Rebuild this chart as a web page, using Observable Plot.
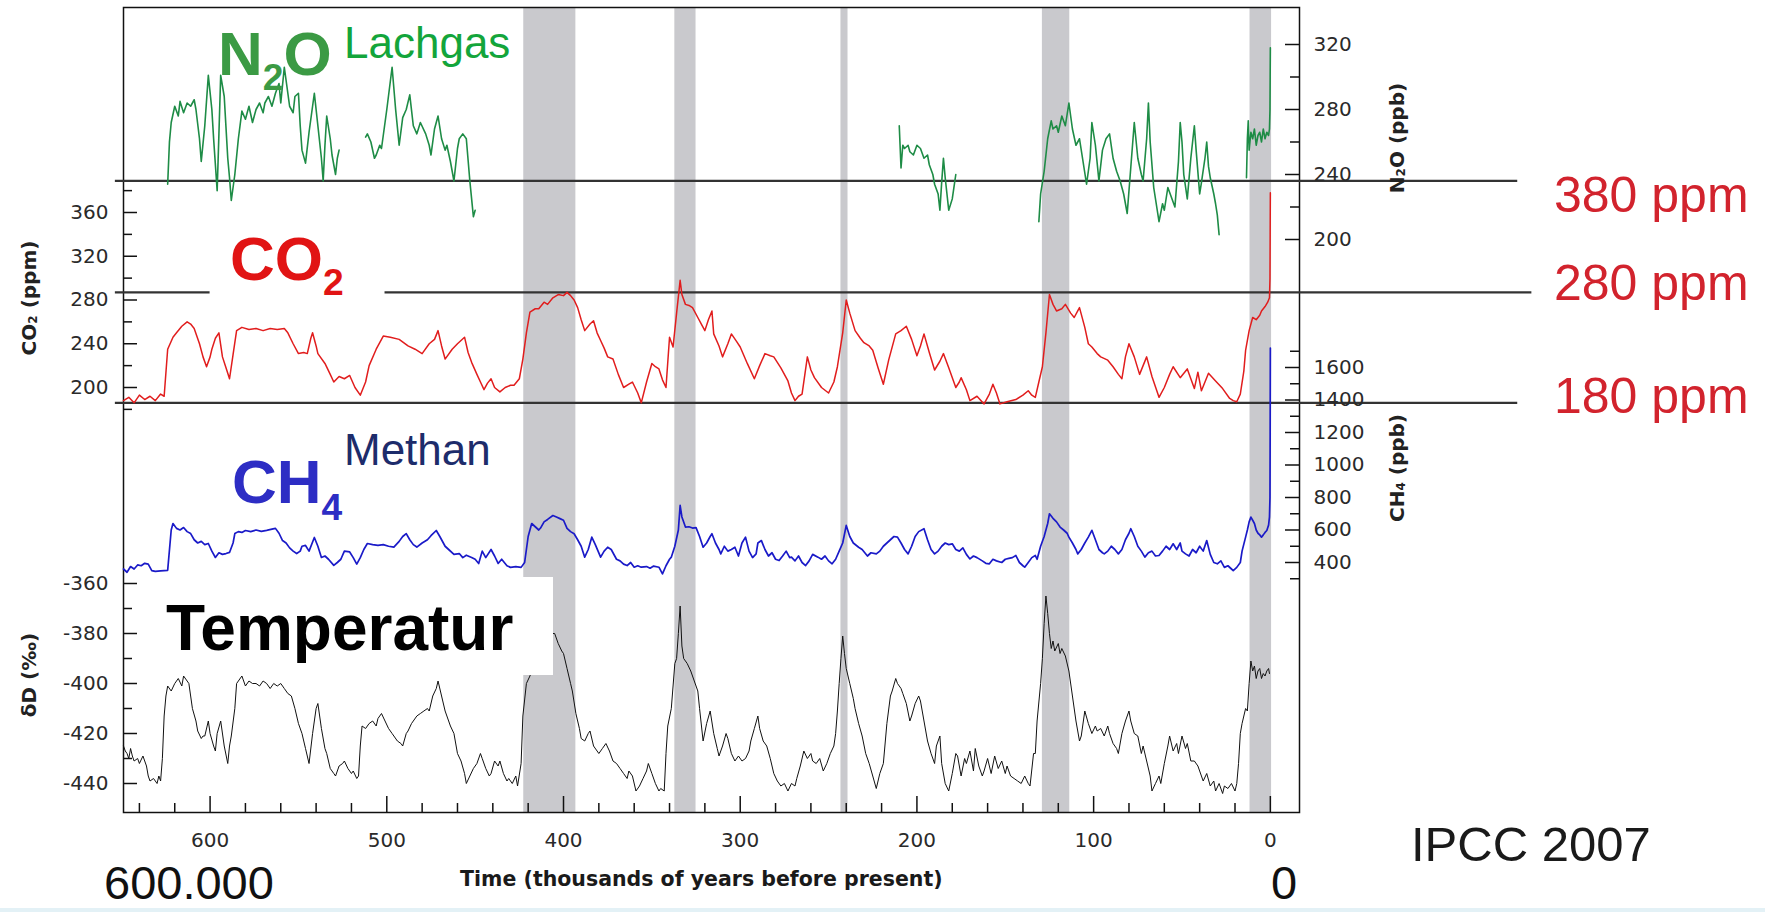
<!DOCTYPE html>
<html>
<head>
<meta charset="utf-8">
<script src="https://cdn.jsdelivr.net/npm/d3@7"></script>
<script src="https://cdn.jsdelivr.net/npm/@observablehq/plot@0.6"></script>
<style>
html,body{margin:0;padding:0;background:#fff;}
#chart{position:relative;width:1765px;height:912px;overflow:hidden;background:#fff;font-family:"Liberation Sans",Arial,sans-serif;}
#chart svg{position:absolute;left:0;top:0;}
.lbl{position:absolute;white-space:nowrap;line-height:1;font-family:"Liberation Sans",Arial,sans-serif;}
.low{line-height:0.8;}
.sub{position:relative;font-size:0.6em;}
.rot{position:absolute;white-space:nowrap;transform:translate(-50%,-50%) rotate(-90deg);font-family:"DejaVu Sans",sans-serif;font-weight:bold;font-size:20px;color:#222;line-height:1;}
.rot sub{font-size:0.6em;vertical-align:-0.15em;}
.mask{position:absolute;background:#fff;}
.strip{position:absolute;left:0;width:1765px;background:#e3f1f6;}
</style>
</head>
<body>
<div id="chart"></div>
<script>
// ---------- DATA (time in thousands of years before present) ----------
const xLabelTicks = [600, 500, 400, 300, 200, 100, 0];
const xMinorTicks = [640, 620, 580, 560, 540, 520, 480, 460, 440, 420, 380, 360, 340, 320, 280, 260, 240, 220, 180, 160, 140, 120, 80, 60, 40, 20];

// interglacial periods (grey bands)
const bandFrom = [422.5, 337, 243, 129, 11.5];
const bandTo   = [393, 325, 239, 113.5, -0.7];

// CO2 axis ticks
const co2LabelTicks = [200, 240, 280, 320, 360];
const co2MinorTicks = [180, 220, 260, 300, 340, 380];
// N2O axis ticks
const n2oLabelTicks = [200, 240, 280, 320];
const n2oMinorTicks = [220, 260, 300];
// CH4 axis ticks
const ch4LabelTicks = [400, 600, 800, 1000, 1200, 1400, 1600];
const ch4MinorTicks = [300, 500, 700, 900, 1100, 1300, 1500, 1700];
// deltaD axis ticks
const dDLabelTicks = [-360, -380, -400, -420, -440];
const dDMinorTicks = [-370, -390, -410, -430];

// reference lines (CO2 level as drawn, start and end time)
const refLevel = [389, 287, 287, 186];
const refStart = [653.6, 653.6, 501, 653.6];
const refEnd   = [-140, 600, -148, -140];

// CO2 (ppm)
const co2 = [[649,188],[646,191],[643,186],[640,193],[637,189],[634,192],[631,188],[628,194],[626,192],[624,235],[621,246],[619,250],[616,256],[613,260],[611,258],[609,254],[606,240],[604,228],[602,219],[600,228],[599,235],[597,245],[595,250],[593,228],[591,218],[589,208],[587,230],[585,252],[582,255],[578,253],[574,254],[570,252],[566,254],[562,253],[558,254],[556,250],[553,240],[550,231],[547,232],[545,231],[543,245],[542,250],[540,238],[539,231],[535,222],[532,212],[530,205],[527,210],[524,208],[521,211],[518,200],[515,193],[512,205],[510,220],[506,235],[502,247],[498,246],[493,244],[488,238],[484,235],[480,231],[476,240],[473,244],[471,252],[469,238],[467,226],[463,235],[460,240],[456,246],[454,232],[452,223],[449,212],[447,205],[445,198],[443,204],[441,208],[439,200],[436,196],[433,200],[430,202],[428,202],[425,208],[423,226],[421,250],[419,269],[416,272],[414,272],[411,278],[409,276],[406,282],[403,285],[400,284],[398,287],[396,284],[394,280],[392,273],[390,262],[388,252],[385,258],[383,261],[381,250],[379,243],[377,236],[375,228],[372,226],[369,212],[366,200],[363,203],[361,205],[358,195],[356,186],[353,205],[350,222],[348,219],[346,217],[344,207],[342,200],[340,246],[338,237],[336,268],[334,298],[333,285],[331,276],[329,275],[327,273],[324,264],[322,258],[320,252],[318,262],[316,270],[315,249],[312,238],[310,228],[307,240],[305,249],[302,242],[300,237],[296,222],[292,208],[289,220],[286,231],[283,229],[281,228],[277,218],[273,206],[271,195],[269,188],[267,192],[265,194],[262,228],[260,216],[258,209],[254,200],[250,195],[247,205],[245,219],[242,250],[240,280],[238,268],[235,252],[232,245],[230,241],[227,238],[225,234],[222,218],[219,203],[216,225],[212,249],[209,252],[206,256],[203,244],[200,229],[198,238],[196,249],[193,232],[190,216],[187,224],[185,231],[182,218],[178,200],[176,205],[175,209],[172,198],[170,188],[166,192],[162,185],[159,194],[157,203],[155,195],[153,185],[149,187],[144,189],[140,193],[137,197],[135,193],[133,191],[131,205],[129,219],[127,250],[125,285],[123,276],[121,270],[118,272],[116,276],[113,268],[111,264],[109,270],[108,273],[105,255],[103,240],[101,237],[98,231],[96,228],[92,225],[89,219],[86,212],[84,208],[82,228],[80,240],[77,228],[74,212],[72,220],[70,228],[67,210],[63,191],[60,200],[57,212],[55,219],[51,209],[47,217],[45,208],[43,199],[41,214],[39,197],[37,205],[35,213],[31,206],[27,199],[23,190],[21,188],[19,187],[17,194],[15,215],[14,234],[12,252],[10,264],[8,262],[6,266],[5,270],[3,274],[1.5,278],[0.5,282],[0.2,300],[0.1,340],[0,378]];

// N2O (ppb); null = no data
const n2o = [[624,234],[623,260],[622,272],[620,282],[618,276],[617,285],[615,278],[613,284],[611,282],[609,286],[608,280],[606,262],[605,248],[603,270],[601,301],[599,280],[598,262],[596,230],[595,265],[594,301],[592,288],[590,250],[589,238],[588,224],[586,240],[584,262],[582,279],[580,274],[578,282],[576,272],[574,280],[572,284],[570,278],[569,284],[567,288],[565,282],[563,290],[561,296],[560,284],[558,306],[556,290],[555,282],[553,278],[552,288],[550,290],[549,270],[548,255],[546,247],[544,266],[541,290],[539,270],[537,250],[536,236],[535,258],[534,276],[532,262],[531,252],[529,240],[528,250],[527,255],[520,null],[512,263],[511,265],[509,260],[507,250],[506,252],[504,258],[503,256],[500,280],[497,306],[495,280],[493,258],[491,275],[489,280],[487,289],[485,270],[483,265],[481,272],[478,265],[476,258],[475,252],[473,268],[471,276],[469,262],[467,255],[466,258],[464,248],[462,236],[460,256],[459,262],[457,265],[455,262],[453,236],[452,225],[451,214],[450,218],[330,null],[210,270],[209,244],[208,258],[207,256],[205,258],[204,254],[202,252],[200,258],[198,256],[196,250],[194,252],[193,246],[191,240],[190,234],[188,228],[187,218],[186,235],[185,250],[184,238],[182,218],[180,225],[178,240],[155,null],[131,211],[130,228],[128,242],[126,262],[124,273],[123,268],[121,270],[120,266],[118,276],[116,270],[114,284],[112,268],[110,258],[108,262],[106,248],[104,234],[102,250],[101,272],[99,258],[97,236],[95,255],[93,262],[91,265],[89,250],[87,242],[85,236],[83,228],[81,216],[79,244],[77,272],[75,250],[73,240],[72,236],[70,262],[69,284],[68,260],[66,232],[64,218],[63,211],[61,222],[60,218],[58,232],[56,226],[54,220],[52,248],[51,272],[50,260],[49,240],[47,225],[45,250],[43,270],[42,255],[40,228],[39,235],[37,250],[36,260],[35,245],[34,238],[32,228],[31,222],[30,215],[29,203],[20,null],[13.5,238],[13,262],[12.5,273],[12,255],[11,266],[10,262],[9,268],[8,258],[7,264],[6,266],[5,260],[4,268],[3,262],[2,266],[1,264],[0.5,268],[0.2,280],[0.1,300],[0,318]];

// CH4 (ppb)
const ch4 = [[649,360],[647,340],[645,375],[643,360],[641,385],[639,380],[637,395],[635,390],[633,350],[631,345],[628,348],[626,350],[624,352],[622,600],[621,640],[619,610],[617,600],[615,615],[613,590],[611,578],[609,540],[607,520],[605,530],[603,510],[601,517],[599,470],[597,431],[595,460],[593,450],[591,455],[589,462],[587,520],[586,578],[584,590],[582,585],[580,597],[577,590],[574,600],[571,592],[568,598],[565,605],[563,610],[561,580],[559,535],[557,520],[555,490],[553,470],[551,455],[549,470],[548,500],[546,505],[544,470],[541,554],[539,500],[537,431],[535,440],[533,420],[530,382],[528,400],[526,420],[524,470],[521,465],[519,430],[517,390],[515,430],[513,480],[511,517],[508,510],[505,505],[502,510],[499,500],[496,495],[493,530],[491,560],[489,578],[487,540],[485,510],[483,495],[480,520],[477,540],[475,565],[472,597],[470,560],[467,500],[465,480],[462,450],[459,455],[457,430],[455,445],[452,431],[450,420],[448,394],[446,470],[444,430],[441,480],[439,440],[437,394],[435,420],[432,380],[430,370],[427,375],[424,370],[422,400],[420,560],[418,640],[416,620],[414,600],[413,612],[411,650],[409,665],[406,689],[404,680],[402,670],[400,660],[398,610],[396,590],[394,577],[392,540],[390,500],[388,433],[386,480],[384,556],[382,510],[379,433],[377,470],[375,494],[373,480],[370,420],[368,410],[366,390],[364,381],[362,400],[360,371],[358,380],[356,371],[353,375],[351,365],[349,378],[346,371],[344,330],[342,380],[340,420],[339,433],[337,500],[335,600],[334,751],[333,680],[331,618],[329,620],[327,612],[325,615],[323,560],[321,494],[319,520],[317,560],[316,577],[314,520],[312,480],[311,453],[309,500],[307,470],[305,480],[303,494],[301,440],[299,520],[297,556],[295,470],[293,430],[291,453],[290,520],[288,535],[286,480],[284,440],[282,460],[280,420],[278,412],[276,440],[274,470],[272,430],[271,433],[269,410],[267,440],[265,400],[263,381],[261,410],[259,450],[256,433],[254,420],[252,440],[250,410],[248,392],[246,420],[244,470],[242,520],[240,628],[238,560],[236,520],[233,494],[231,480],[228,440],[226,460],[223,453],[221,470],[219,500],[217,520],[215,540],[213,560],[211,556],[209,520],[207,480],[205,453],[203,500],[201,560],[199,590],[196,608],[194,540],[192,480],[190,453],[188,470],[186,500],[184,520],[182,510],[180,515],[178,480],[176,470],[174,490],[172,450],[170,422],[168,440],[166,430],[163,410],[161,395],[159,392],[157,420],[155,410],[152,400],[150,420],[148,425],[146,430],[144,443],[142,400],[140,380],[139,371],[137,400],[135,430],[133,443],[132,420],[130,500],[128,560],[126,640],[125,700],[123,672],[121,650],[119,618],[117,600],[115,580],[114,556],[112,520],[110,480],[109,453],[107,480],[105,520],[103,556],[101,598],[99,540],[97,480],[95,460],[94,453],[92,470],[90,500],[88,480],[86,453],[84,480],[82,540],[80,580],[79,608],[77,560],[75,500],[73,470],[71,433],[69,460],[67,470],[65,440],[63,443],[61,470],[59,500],[57,480],[55,515],[53,480],[51,520],[50,470],[48,453],[46,440],[44,480],[42,460],[40,500],[38,470],[36,535],[34,450],[32,400],[30,392],[28,410],[26,370],[24,380],[22,360],[21,350],[19,370],[17,400],[16,470],[14,556],[13,600],[12,650],[11,679],[10,660],[9,640],[8,600],[7,580],[6,570],[5,556],[4,570],[3,585],[2,597],[1,630],[0.5,679],[0.2,800],[0.1,1200],[0,1720]];

// Temperature proxy deltaD (per mil)
const dD = [[649,-425],[648,-427],[647,-428],[646,-430],[645,-426],[644,-429],[643,-431],[641,-430],[640,-432],[638,-429],[636,-433],[635,-437],[634,-439],[632,-438],[630,-440],[629,-437],[628,-439],[627,-430],[626,-413],[625,-405],[624,-401],[622,-403],[620,-400],[618,-398],[616,-401],[615,-397],[613,-399],[612,-400],[610,-410],[608,-415],[607,-419],[605,-422],[604,-421],[603,-421],[601,-415],[600,-420],[598,-425],[597,-427],[596,-420],[594,-415],[592,-425],[590,-432],[589,-425],[588,-421],[586,-410],[585,-400],[584,-399],[582,-397],[580,-401],[578,-399],[576,-400],[574,-400],[572,-401],[570,-399],[568,-400],[566,-402],[564,-400],[562,-401],[560,-400],[558,-402],[556,-404],[554,-405],[552,-410],[550,-416],[548,-420],[546,-426],[544,-432],[542,-420],[540,-410],[539,-408],[537,-418],[535,-426],[534,-428],[532,-434],[530,-436],[529,-437],[527,-433],[525,-432],[524,-431],[522,-434],[520,-436],[519,-435],[517,-438],[516,-437],[515,-425],[514,-417],[512,-418],[510,-416],[508,-415],[506,-417],[505,-414],[503,-412],[501,-415],[499,-418],[497,-420],[496,-421],[494,-423],[492,-424],[491,-425],[489,-420],[488,-419],[486,-416],[485,-415],[483,-413],[481,-412],[479,-411],[477,-410],[476,-411],[474,-405],[472,-402],[471,-399],[469,-405],[467,-411],[466,-413],[464,-417],[462,-420],[460,-428],[458,-431],[456,-436],[455,-440],[453,-437],[451,-434],[449,-432],[447,-428],[446,-430],[444,-434],[442,-437],[441,-436],[439,-431],[437,-433],[436,-431],[434,-436],[432,-439],[431,-438],[429,-440],[427,-437],[426,-441],[424,-432],[423,-413],[421,-400],[419,-397],[417,-393],[415,-390],[413,-386],[411,-383],[409,-381],[407,-380],[405,-380],[403,-384],[401,-387],[400,-388],[398,-394],[396,-400],[395,-403],[393,-412],[391,-418],[390,-422],[388,-423],[386,-420],[385,-419],[383,-425],[381,-427],[380,-428],[378,-426],[376,-424],[374,-427],[372,-431],[370,-432],[368,-434],[366,-436],[364,-438],[363,-435],[361,-437],[359,-443],[357,-441],[355,-438],[353,-435],[352,-432],[350,-436],[348,-440],[346,-443],[345,-442],[343,-443],[342,-428],[341,-417],[339,-410],[337,-392],[336,-390],[335,-380],[334,-369],[333,-385],[332,-390],[330,-392],[328,-395],[326,-399],[324,-403],[323,-410],[321,-423],[319,-416],[317,-411],[315,-420],[313,-426],[312,-429],[310,-425],[308,-420],[307,-422],[305,-428],[303,-431],[301,-429],[299,-431],[297,-430],[295,-427],[294,-423],[292,-418],[290,-413],[289,-418],[287,-423],[285,-425],[283,-430],[281,-436],[279,-439],[277,-441],[275,-440],[273,-443],[271,-440],[269,-441],[268,-438],[266,-433],[264,-427],[262,-430],[260,-428],[259,-431],[257,-432],[255,-430],[253,-435],[251,-432],[249,-428],[247,-425],[246,-420],[245,-411],[244,-400],[243,-390],[242,-381],[241,-388],[240,-394],[238,-400],[236,-406],[235,-410],[233,-416],[231,-421],[229,-428],[227,-432],[225,-437],[223,-442],[221,-436],[219,-432],[217,-416],[215,-405],[214,-403],[212,-398],[211,-400],[209,-402],[208,-404],[206,-408],[204,-415],[203,-413],[201,-408],[199,-405],[198,-407],[196,-415],[194,-423],[192,-428],[190,-432],[189,-425],[187,-421],[186,-432],[184,-440],[182,-443],[180,-436],[178,-428],[177,-429],[175,-437],[173,-430],[172,-432],[170,-427],[168,-435],[167,-426],[165,-433],[163,-437],[162,-435],[160,-430],[158,-436],[156,-429],[154,-434],[152,-431],[150,-436],[149,-433],[147,-437],[145,-438],[143,-439],[141,-440],[139,-437],[137,-440],[136,-441],[134,-428],[133,-428],[132,-415],[130,-400],[129,-390],[128,-376],[127,-365],[126,-372],[125,-380],[124,-386],[123,-383],[122,-387],[120,-384],[119,-388],[118,-386],[116,-389],[114,-395],[112,-405],[110,-415],[108,-423],[107,-421],[105,-411],[103,-416],[101,-420],[99,-417],[98,-419],[96,-418],[94,-421],[92,-417],[91,-420],[89,-424],[87,-426],[86,-428],[84,-420],[82,-415],[80,-411],[79,-415],[77,-420],[75,-421],[73,-428],[72,-425],[70,-431],[68,-437],[67,-443],[65,-440],[63,-437],[62,-440],[60,-432],[58,-425],[57,-421],[55,-427],[53,-424],[52,-428],[50,-421],[48,-426],[47,-424],[45,-431],[43,-431],[41,-433],[39,-437],[38,-439],[36,-436],[34,-441],[32,-439],[31,-443],[29,-440],[27,-444],[26,-441],[24,-442],[22,-440],[20,-443],[19,-440],[18,-432],[17,-420],[16,-416],[15,-413],[14,-410],[13,-411],[12,-400],[11,-391],[10,-395],[9,-393],[8,-398],[7,-395],[6,-394],[5,-398],[4,-396],[3,-397],[2,-395],[1,-394],[0.5,-396]];

// ---------- LAYOUT ----------
const W = 1765, H = 912;
const ML = 123, MR = 466, MT = 7, MB = 100;
const FW = W - ML - MR, FH = H - MT - MB;
const xDomain = [649, -16.5];
const svgStyle = "background:transparent;overflow:visible;max-width:none;font-family:'DejaVu Sans',sans-serif;font-size:20px;color:#2a2a2a;";
const chart = document.getElementById("chart");

function layer(opts) {
  const svg = Plot.plot({width: W, height: H, marginLeft: ML, marginRight: MR, marginTop: MT, marginBottom: MB, style: svgStyle, ...opts});
  chart.append(svg);
}

const bands = bandFrom.map((f, i) => ({from: f, to: bandTo[i]}));
const refLines = refLevel.map((v, i) => ({level: v, from: refStart[i], to: refEnd[i]}));
const fmt = d => String(d);

// base: bands, frame, time axis
layer({
  x: {domain: xDomain, ticks: xLabelTicks, tickSize: 0, tickPadding: 20, tickFormat: fmt, label: null},
  marks: [
    Plot.rect(bands, {x1: "from", x2: "to", fill: "#c9c9cd"}),
    Plot.tickX(xMinorTicks, {x: d => d, insetTop: FH - 9, stroke: "#111", strokeWidth: 1.5}),
    Plot.tickX(xLabelTicks, {x: d => d, insetTop: FH - 16, stroke: "#111", strokeWidth: 1.5}),
    Plot.frame({stroke: "#111", strokeWidth: 1.5}),
    Plot.text(["Time (thousands of years before present)"], {x: () => 322, frameAnchor: "bottom", dy: 73, text: d => d, fontWeight: "bold", fontSize: 20.5, fill: "#1a1a1a"})
  ]
});

// CO2
layer({
  x: {domain: xDomain, axis: null},
  y: {domain: [200, 360], range: [387, 212], axis: "left", ticks: co2LabelTicks, tickSize: 0, tickPadding: 15, tickFormat: fmt, label: null},
  marks: [
    Plot.ruleY(refLines, {y: "level", x1: "from", x2: "to", stroke: "#333", strokeWidth: 2.2}),
    Plot.tickY(co2MinorTicks, {y: d => d, insetRight: FW - 9, stroke: "#111", strokeWidth: 1.5}),
    Plot.tickY(co2LabelTicks, {y: d => d, insetRight: FW - 14, stroke: "#111", strokeWidth: 1.5}),
    Plot.line(co2, {x: d => d[0], y: d => d[1], stroke: "#e11d1d", strokeWidth: 1.5})
  ]
});

// N2O
layer({
  x: {domain: xDomain, axis: null},
  y: {domain: [200, 320], range: [239, 44], axis: "right", ticks: n2oLabelTicks, tickSize: 0, tickPadding: 14, tickFormat: fmt, label: null},
  marks: [
    Plot.tickY(n2oMinorTicks, {y: d => d, insetLeft: FW - 9, stroke: "#111", strokeWidth: 1.5}),
    Plot.tickY(n2oLabelTicks, {y: d => d, insetLeft: FW - 14, stroke: "#111", strokeWidth: 1.5}),
    Plot.line(n2o, {x: d => d[0], y: d => d[1], stroke: "#1e8c46", strokeWidth: 1.6})
  ]
});

// CH4
layer({
  x: {domain: xDomain, axis: null},
  y: {domain: [400, 1600], range: [562, 367], axis: "right", ticks: ch4LabelTicks, tickSize: 0, tickPadding: 14, tickFormat: fmt, label: null},
  marks: [
    Plot.tickY(ch4MinorTicks, {y: d => d, insetLeft: FW - 9, stroke: "#111", strokeWidth: 1.5}),
    Plot.tickY(ch4LabelTicks, {y: d => d, insetLeft: FW - 14, stroke: "#111", strokeWidth: 1.5}),
    Plot.line(ch4, {x: d => d[0], y: d => d[1], stroke: "#1a1ac8", strokeWidth: 1.7})
  ]
});

// deltaD
layer({
  x: {domain: xDomain, axis: null},
  y: {domain: [-440, -360], range: [783, 583], axis: "left", ticks: dDLabelTicks, tickSize: 0, tickPadding: 15, tickFormat: fmt, label: null},
  marks: [
    Plot.tickY(dDMinorTicks, {y: d => d, insetRight: FW - 9, stroke: "#111", strokeWidth: 1.5}),
    Plot.tickY(dDLabelTicks, {y: d => d, insetRight: FW - 14, stroke: "#111", strokeWidth: 1.5}),
    Plot.line(dD, {x: d => d[0], y: d => d[1], stroke: "#111", strokeWidth: 1})
  ]
});

// ---------- ANNOTATIONS ----------
chart.insertAdjacentHTML("beforeend", `
<div class="mask" style="left:140px;top:577px;width:413px;height:98px;"></div>
<div class="strip" style="top:908px;height:4px;"></div>
<div class="lbl" style="left:218px;top:23px;font-size:62px;font-weight:bold;color:#3b9a44;">N<span class="sub" style="top:15px;">2</span>O</div>
<div class="lbl" style="left:344px;top:21px;font-size:44px;color:#13a53b;">Lachgas</div>
<div class="lbl" style="left:230px;top:228px;font-size:62px;font-weight:bold;color:#e11414;">CO<span class="sub" style="top:15px;">2</span></div>
<div class="lbl" style="left:232px;top:451px;font-size:62px;font-weight:bold;color:#2d2dc4;">CH<span class="sub" style="top:17px;">4</span></div>
<div class="lbl" style="left:344px;top:428px;font-size:44px;color:#1d2c6b;">Methan</div>
<div class="lbl" style="left:166px;top:596px;font-size:64px;font-weight:bold;color:#000;">Temperatur</div>
<div class="lbl" style="left:1554px;top:170px;font-size:50px;color:#d2232d;">380 ppm</div>
<div class="lbl" style="left:1554px;top:258px;font-size:50px;color:#d2232d;">280 ppm</div>
<div class="lbl" style="left:1554px;top:371px;font-size:50px;color:#d2232d;">180 ppm</div>
<div class="lbl" style="left:1411px;top:820px;font-size:49px;color:#1a1a1a;">IPCC 2007</div>
<div class="lbl low" style="left:104px;top:864px;font-size:47px;color:#111;">600.000</div>
<div class="lbl low" style="left:1271px;top:864px;font-size:47px;color:#111;">0</div>
<div class="rot" style="left:29px;top:298px;">CO<sub>2</sub> (ppm)</div>
<div class="rot" style="left:29px;top:675px;">δD (‰)</div>
<div class="rot" style="left:1397px;top:138px;">N<sub>2</sub>O (ppb)</div>
<div class="rot" style="left:1397px;top:468px;">CH<sub>4</sub> (ppb)</div>
`);
</script>
</body>
</html>
